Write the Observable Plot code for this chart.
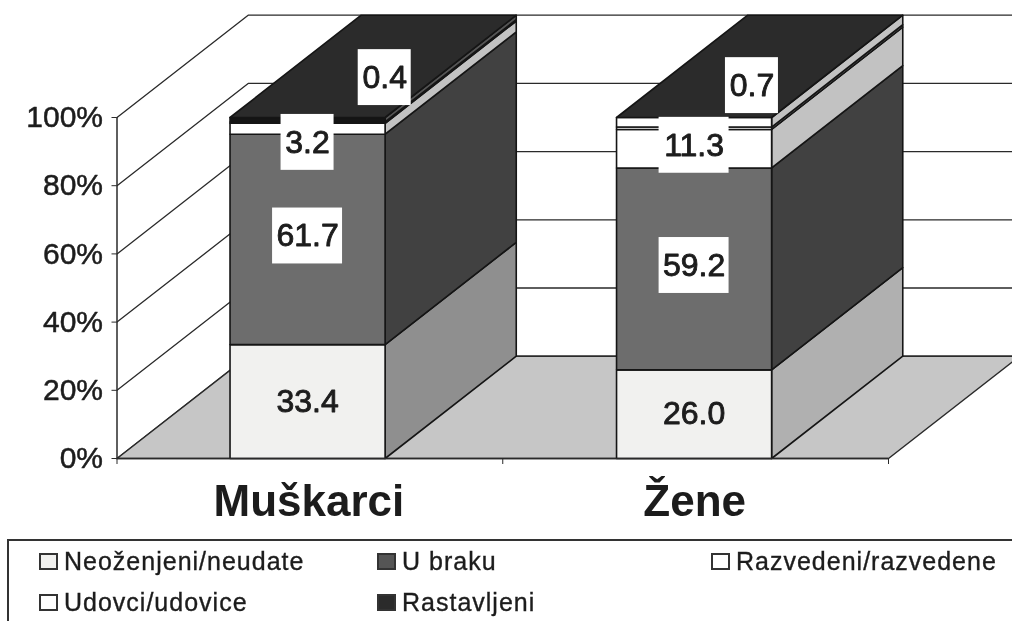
<!DOCTYPE html>
<html><head><meta charset="utf-8">
<script src="https://cdn.jsdelivr.net/npm/d3@7"></script>
<script src="https://cdn.jsdelivr.net/npm/@observablehq/plot@0.6"></script>
<style>
html,body{margin:0;padding:0;background:#fff;overflow:hidden;width:1012px;height:621px}
#chart svg{display:block;overflow:visible;filter:blur(0.45px)}
#legend{box-sizing:border-box;position:absolute;left:7px;top:539px;width:1005px;height:82px;border-top:2px solid #333;border-left:2px solid #333;font-family:"Liberation Sans",Arial,sans-serif;font-size:25px;letter-spacing:1px;color:#1c1c1c;-webkit-text-stroke:0.35px #1c1c1c;filter:blur(0.4px)}
#legend div{position:absolute;display:flex;align-items:center;white-space:nowrap;height:28px}
#legend i{display:block;box-sizing:border-box;width:19px;height:17px;border:2px solid #333;margin-right:6px}
</style></head><body>
<div id="chart"></div><div id="legend"></div>
<script>
const categories = ["Muškarci", "Žene"];
const seriesNames = ["Neoženjeni/neudate", "U braku", "Razvedeni/razvedene", "Udovci/udovice", "Rastavljeni"];
const muskarci = [33.4, 61.7, 3.2, 0.4, 1.3];
const zene = [26.0, 59.2, 11.3, 0.7, 2.8];
const labelTexts = [["33.4","61.7","3.2","0.4"],["26.0","59.2","11.3","0.7"]];
const yTicks = [0,20,40,60,80,100];
const xTicks = [0,1,2];

const frontColors = [["#f1f1ef","#6d6d6d","#ffffff","#ffffff","#151515"],
                     ["#f1f1ef","#6d6d6d","#ffffff","#ffffff","#ffffff"]];
const sideColors = [["#8f8f8f","#414141","#c2c2c2","#f4f4f4","#555555"],
                    ["#b0b0b0","#414141","#c2c2c2","#efefef","#c2c2c2"]];
const topColor = "#2b2b2b", floorColor = "#c6c6c6";

// oblique projection, in data units
const du = 0.34, dp = 30;
const barStart = [0.293, 1.295], barW = 0.402;
const values = [muskarci, zene];

const poly = (id, fill, pts) => [...pts, pts[0]].map(([x,y]) => ({id, fill, x, y}));
let faces = [];
values.forEach((vals, b) => {
  const u0 = barStart[b], u1 = u0 + barW;
  let acc = 0;
  vals.forEach((v, s) => {
    const p0 = acc, p1 = acc + v; acc = p1;
    faces.push(...poly(`side${b}${s}`, sideColors[b][s], [[u1,p0],[u1+du,p0+dp],[u1+du,p1+dp],[u1,p1]]));
    faces.push(...poly(`front${b}${s}`, frontColors[b][s], [[u0,p0],[u1,p0],[u1,p1],[u0,p1]]));
  });
  faces.push(...poly(`top${b}`, topColor, [[u0,100],[u1,100],[u1+du,100+dp],[u0+du,100+dp]]));
});
const floor = poly("floor", floorColor, [[0,0],[du,dp],[2+du,dp],[2,0]]);
const grid = yTicks.flatMap(t => [[0,t],[du,t+dp],[2+du,t+dp]].map(([x,y]) => ({t,x,y})));

// value labels sit at the segment middle, nudged as in the source
const nudgeX = [[0,0,0,0.2],[0,0,0,0.15]];
const nudgeY = [[0,1,-4,13.2],[0,1,1,12.5]];
const labels = [];
values.forEach((vals,b) => {
  let acc = 0;
  labelTexts[b].forEach((t,s) => {
    const mid = acc + vals[s]/2; acc += vals[s];
    labels.push({t, s, x: barStart[b] + barW/2 + nudgeX[b][s], y: mid + nudgeY[b][s],
                 hw: t.length > 3 ? 0.0907 : 0.0687});
  });
});
const boxes = labels.filter(d => d.s > 0);

const plot = Plot.plot({
  width: 1012, height: 535,
  marginLeft: 116.5, marginRight: 124, marginTop: 117, marginBottom: 77,
  style: {background:"#fff", fontFamily:'"Liberation Sans",Arial,sans-serif', color:"#1c1c1c"},
  x: {domain:[0,2], label:null},
  y: {domain:[0,100], label:null},
  color: {type:"identity"},
  marks: [
    Plot.line(grid, {x:"x", y:"y", z:"t", stroke:"#2a2a2a", strokeWidth:1.3}),
    Plot.line(floor, {x:"x", y:"y", z:"id", fill:"fill", stroke:"#2a2a2a", strokeWidth:1.5}),
    Plot.line(faces, {x:"x", y:"y", z:"id", fill:"fill", stroke:"#151515", strokeWidth:1.6}),
    Plot.ruleX([0], {y1:0, y2:100, stroke:"#2a2a2a", strokeWidth:1.5}),
    Plot.ruleY([0], {x1:0, x2:2, stroke:"#2a2a2a", strokeWidth:1.5}),
    Plot.axisY({ticks:yTicks, tickFormat:d=>d+"%", tickSize:5, tickPadding:9, fontSize:30, stroke:"#2a2a2a", textStroke:"#1c1c1c", textStrokeWidth:0.5}),
    Plot.axisX({ticks:xTicks, tickFormat:()=>"", tickSize:6, stroke:"#2a2a2a"}),
    Plot.rect(boxes, {x1:d=>d.x-d.hw, x2:d=>d.x+d.hw, y1:d=>d.y-8.2, y2:d=>d.y+8.2, fill:"#fff", inset:0}),
    Plot.text(labels, {x:"x", y:"y", text:"t", fontSize:32, fill:"#1c1c1c", stroke:"#1c1c1c", strokeWidth:0.9}),
    Plot.text(categories, {x:(d,i)=>i+0.5, y:()=>0, text:d=>d, dx:-1, dy:43, fontSize:44, fontWeight:"bold", fill:"#1c1c1c"})
  ]
});
document.getElementById("chart").append(plot);

const legendPos = [[30,6],[368,6],[702,6],[30,47],[368,47]];
const legendColors = ["#f1f1ef","#555555","#ffffff","#ffffff","#2b2b2b"];
const lg = document.getElementById("legend");
seriesNames.forEach((n,i) => {
  const d = document.createElement("div");
  d.style.left = legendPos[i][0]+"px"; d.style.top = legendPos[i][1]+"px";
  const sw = document.createElement("i"); sw.style.background = legendColors[i];
  d.append(sw, document.createTextNode(n));
  lg.append(d);
});
</script></body></html>
